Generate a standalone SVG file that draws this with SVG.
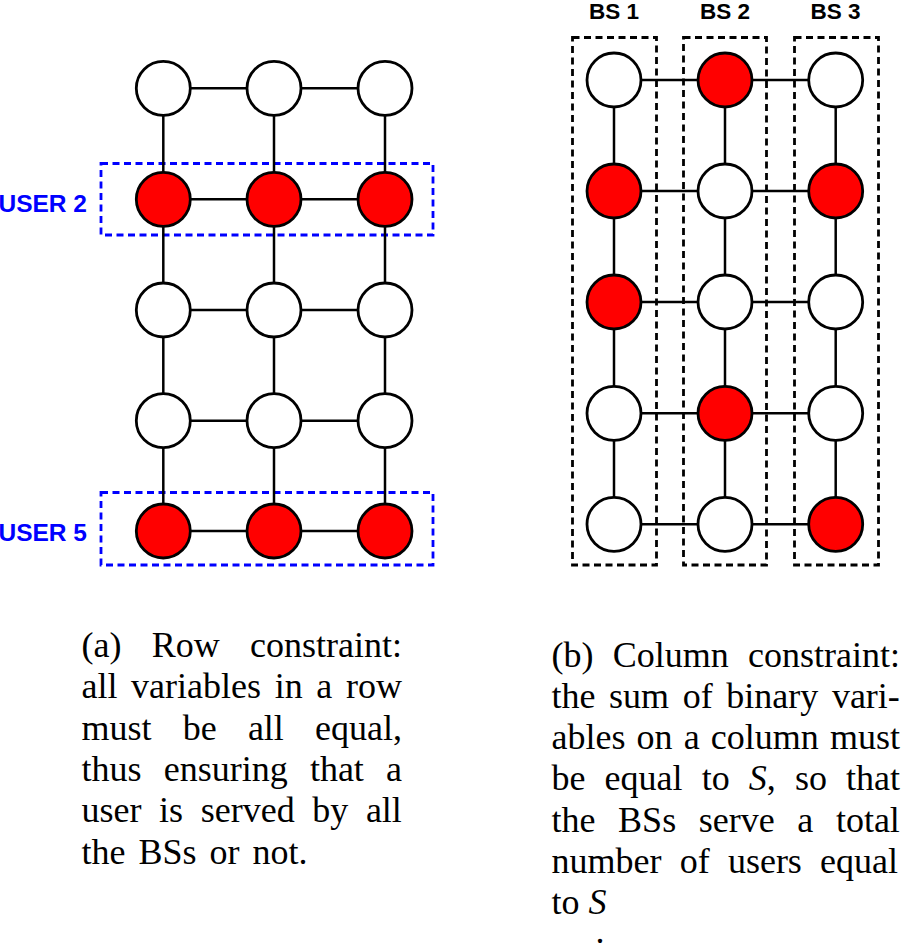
<svg xmlns="http://www.w3.org/2000/svg" width="902" height="946" viewBox="0 0 902 946">
<style>
.n{stroke:#000;stroke-width:2.8}
.w{fill:#fff}
.r{fill:#ff0000}
.e line{stroke:#000;stroke-width:2.5}
.bb{fill:none;stroke:#0000ff;stroke-width:2.8;stroke-dasharray:7 4.5}
.kb{fill:none;stroke:#000;stroke-width:2.8;stroke-dasharray:7 4.5}
.ul{font-family:"Liberation Sans",Arial,sans-serif;font-weight:bold;font-size:24.5px;fill:#0000ff;text-anchor:end}
.bl{font-family:"Liberation Sans",Arial,sans-serif;font-weight:bold;font-size:22.5px;fill:#000;text-anchor:middle}
.cap{font-family:"Liberation Serif","Times New Roman",serif;font-size:36px;fill:#000}
.it{font-style:italic}
</style>
<rect width="902" height="946" fill="#fff"/>

<!-- group boxes -->
<g id="user2-box"><rect class="bb" x="101" y="163.5" width="332" height="71.5"/><text class="ul" x="87" y="211.5">USER 2</text></g>
<g id="user5-box"><rect class="bb" x="101" y="492.5" width="332" height="72.5"/><text class="ul" x="87" y="540.5">USER 5</text></g>
<g id="bs1-box"><rect class="kb" x="572.5" y="37.5" width="84" height="527.5"/><text class="bl" x="614" y="18.5">BS 1</text></g>
<g id="bs2-box"><rect class="kb" x="683.5" y="37.5" width="83" height="527.5"/><text class="bl" x="725" y="18.5">BS 2</text></g>
<g id="bs3-box"><rect class="kb" x="794.5" y="37.5" width="84" height="527.5"/><text class="bl" x="835.5" y="18.5">BS 3</text></g>

<!-- connectors -->
<g id="connectors" class="e">
<line x1="163.3" y1="88.3" x2="274" y2="88.3"/><line x1="274" y1="88.3" x2="385" y2="88.3"/>
<line x1="163.3" y1="199.3" x2="274" y2="199.3"/><line x1="274" y1="199.3" x2="385" y2="199.3"/>
<line x1="163.3" y1="310" x2="274" y2="310"/><line x1="274" y1="310" x2="385" y2="310"/>
<line x1="163.3" y1="420.7" x2="274" y2="420.7"/><line x1="274" y1="420.7" x2="385" y2="420.7"/>
<line x1="163.3" y1="531" x2="274" y2="531"/><line x1="274" y1="531" x2="385" y2="531"/>
<line x1="163.3" y1="88.3" x2="163.3" y2="199.3"/><line x1="163.3" y1="199.3" x2="163.3" y2="310"/><line x1="163.3" y1="310" x2="163.3" y2="420.7"/><line x1="163.3" y1="420.7" x2="163.3" y2="531"/>
<line x1="274" y1="88.3" x2="274" y2="199.3"/><line x1="274" y1="199.3" x2="274" y2="310"/><line x1="274" y1="310" x2="274" y2="420.7"/><line x1="274" y1="420.7" x2="274" y2="531"/>
<line x1="385" y1="88.3" x2="385" y2="199.3"/><line x1="385" y1="199.3" x2="385" y2="310"/><line x1="385" y1="310" x2="385" y2="420.7"/><line x1="385" y1="420.7" x2="385" y2="531"/>
<line x1="614" y1="80" x2="725" y2="80"/><line x1="725" y1="80" x2="835.7" y2="80"/>
<line x1="614" y1="191" x2="725" y2="191"/><line x1="725" y1="191" x2="835.7" y2="191"/>
<line x1="614" y1="302" x2="725" y2="302"/><line x1="725" y1="302" x2="835.7" y2="302"/>
<line x1="614" y1="413.3" x2="725" y2="413.3"/><line x1="725" y1="413.3" x2="835.7" y2="413.3"/>
<line x1="614" y1="524.3" x2="725" y2="524.3"/><line x1="725" y1="524.3" x2="835.7" y2="524.3"/>
<line x1="614" y1="80" x2="614" y2="191"/><line x1="614" y1="191" x2="614" y2="302"/><line x1="614" y1="302" x2="614" y2="413.3"/><line x1="614" y1="413.3" x2="614" y2="524.3"/>
<line x1="725" y1="80" x2="725" y2="191"/><line x1="725" y1="191" x2="725" y2="302"/><line x1="725" y1="302" x2="725" y2="413.3"/><line x1="725" y1="413.3" x2="725" y2="524.3"/>
<line x1="835.7" y1="80" x2="835.7" y2="191"/><line x1="835.7" y1="191" x2="835.7" y2="302"/><line x1="835.7" y1="302" x2="835.7" y2="413.3"/><line x1="835.7" y1="413.3" x2="835.7" y2="524.3"/>
</g>

<!-- left grid nodes -->
<g id="a-r1c1"><circle class="n w" cx="163.3" cy="88.3" r="27"/></g>
<g id="a-r1c2"><circle class="n w" cx="274" cy="88.3" r="27"/></g>
<g id="a-r1c3"><circle class="n w" cx="385" cy="88.3" r="27"/></g>
<g id="a-r2c1"><circle class="n r" cx="163.3" cy="199.3" r="27"/></g>
<g id="a-r2c2"><circle class="n r" cx="274" cy="199.3" r="27"/></g>
<g id="a-r2c3"><circle class="n r" cx="385" cy="199.3" r="27"/></g>
<g id="a-r3c1"><circle class="n w" cx="163.3" cy="310" r="27"/></g>
<g id="a-r3c2"><circle class="n w" cx="274" cy="310" r="27"/></g>
<g id="a-r3c3"><circle class="n w" cx="385" cy="310" r="27"/></g>
<g id="a-r4c1"><circle class="n w" cx="163.3" cy="420.7" r="27"/></g>
<g id="a-r4c2"><circle class="n w" cx="274" cy="420.7" r="27"/></g>
<g id="a-r4c3"><circle class="n w" cx="385" cy="420.7" r="27"/></g>
<g id="a-r5c1"><circle class="n r" cx="163.3" cy="531" r="27"/></g>
<g id="a-r5c2"><circle class="n r" cx="274" cy="531" r="27"/></g>
<g id="a-r5c3"><circle class="n r" cx="385" cy="531" r="27"/></g>

<!-- right grid nodes -->
<g id="b-r1c1"><circle class="n w" cx="614" cy="80" r="27"/></g>
<g id="b-r1c2"><circle class="n r" cx="725" cy="80" r="27"/></g>
<g id="b-r1c3"><circle class="n w" cx="835.7" cy="80" r="27"/></g>
<g id="b-r2c1"><circle class="n r" cx="614" cy="191" r="27"/></g>
<g id="b-r2c2"><circle class="n w" cx="725" cy="191" r="27"/></g>
<g id="b-r2c3"><circle class="n r" cx="835.7" cy="191" r="27"/></g>
<g id="b-r3c1"><circle class="n r" cx="614" cy="302" r="27"/></g>
<g id="b-r3c2"><circle class="n w" cx="725" cy="302" r="27"/></g>
<g id="b-r3c3"><circle class="n w" cx="835.7" cy="302" r="27"/></g>
<g id="b-r4c1"><circle class="n w" cx="614" cy="413.3" r="27"/></g>
<g id="b-r4c2"><circle class="n r" cx="725" cy="413.3" r="27"/></g>
<g id="b-r4c3"><circle class="n w" cx="835.7" cy="413.3" r="27"/></g>
<g id="b-r5c1"><circle class="n w" cx="614" cy="524.3" r="27"/></g>
<g id="b-r5c2"><circle class="n w" cx="725" cy="524.3" r="27"/></g>
<g id="b-r5c3"><circle class="n r" cx="835.7" cy="524.3" r="27"/></g>

<!-- captions -->
<g id="caption-a" class="cap">
<text y="657"><tspan x="81.5">(a)</tspan><tspan x="151.8">Row</tspan><tspan x="250">constraint:</tspan></text>
<text y="698.3"><tspan x="81.5">all</tspan><tspan x="131.1">variables</tspan><tspan x="274.7">in</tspan><tspan x="316.3">a</tspan><tspan x="345.9">row</tspan></text>
<text y="739.6"><tspan x="81.5">must</tspan><tspan x="182.7">be</tspan><tspan x="247.9">all</tspan><tspan x="315.1">equal,</tspan></text>
<text y="780.9"><tspan x="81.5">thus</tspan><tspan x="163.7">ensuring</tspan><tspan x="309.9">that</tspan><tspan x="386.1">a</tspan></text>
<text y="822.2"><tspan x="81.5">user</tspan><tspan x="159.1">is</tspan><tspan x="200.7">served</tspan><tspan x="312.3">by</tspan><tspan x="365.9">all</tspan></text>
<text y="863.5" x="81.5" word-spacing="4">the BSs or not.</text>
</g>
<g id="caption-b" class="cap">
<text y="666.5"><tspan x="551.5">(b)</tspan><tspan x="612.8">Column</tspan><tspan x="748">constraint:</tspan></text>
<text y="707.8"><tspan x="551.5">the</tspan><tspan x="609.1">sum</tspan><tspan x="682.7">of</tspan><tspan x="726.3">binary</tspan><tspan x="831.9">vari-</tspan></text>
<text y="749.1"><tspan x="551.5">ables</tspan><tspan x="636.6">on</tspan><tspan x="683.7">a</tspan><tspan x="710.8">column</tspan><tspan x="829.9">must</tspan></text>
<text y="790.4"><tspan x="551.5">be</tspan><tspan x="604.6">equal</tspan><tspan x="701.7">to</tspan><tspan x="748.8" class="it">S</tspan><tspan>,</tspan><tspan x="794.9">so</tspan><tspan x="846">that</tspan></text>
<text y="831.7"><tspan x="551.5">the</tspan><tspan x="618.1">BSs</tspan><tspan x="698.7">serve</tspan><tspan x="797.3">a</tspan><tspan x="835.9">total</tspan></text>
<text y="873"><tspan x="551.5">number</tspan><tspan x="679.7">of</tspan><tspan x="727.9">users</tspan><tspan x="820.1">equal</tspan></text>
<text y="914.3" x="551.5">to <tspan class="it">S</tspan></text>
<text y="943" x="595.5">.</text>
</g>
</svg>
